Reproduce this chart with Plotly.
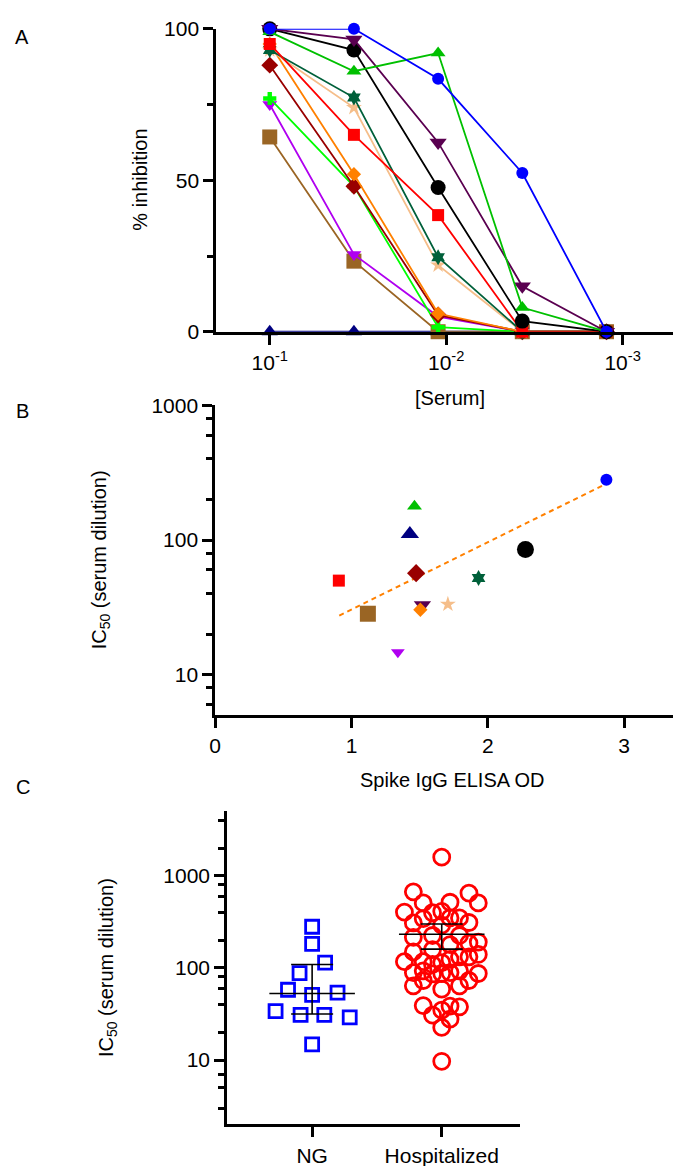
import plotly.graph_objects as go
import numpy as np

W, H = 681, 1166
FONT = "Liberation Sans, Arial, Helvetica, sans-serif"

# ---------------- Panel A data ----------------
dilutions = [1/10, 1/30, 1/90, 1/270, 1/810]
seriesA_names = ["navy", "brown", "violet", "lime", "darkred", "orange", "tan",
                 "darkgreen", "red", "black", "plum", "green", "blue"]
inh_navy = [0, 0, 0, 0, 0]
inh_brown = [64.3, 23.3, 0, 0, 0]
inh_violet = [75, 25.5, 5, 0, 0]
inh_lime = [77, 48, 1.5, 0, 0]
inh_darkred = [88, 48, 5.5, 0, 0]
inh_orange = [95, 52, 6, 0, 0]
inh_tan = [93, 74, 22, 0, 0]
inh_darkgreen = [93, 77.3, 24.6, 0, 0]
inh_red = [95, 65, 38.5, 0, 0]
inh_black = [100, 93, 47.6, 3.5, 0]
inh_plum = [100, 96.5, 62.5, 15, 0]
inh_green = [99, 86, 92, 8, 0]
inh_blue = [100, 100, 83.5, 52.4, 0]

colors = {"navy": "#000080", "brown": "#9A6524", "violet": "#B000F0", "lime": "#00FF00",
          "darkred": "#990000", "orange": "#FF8000", "tan": "#F5BE8A",
          "darkgreen": "#00603A", "red": "#FF0000", "black": "#000000",
          "plum": "#5A0050", "green": "#00C000", "blue": "#0000FF"}
symbols = {"navy": "triangle-up", "brown": "square", "violet": "triangle-down",
           "lime": "cross", "darkred": "diamond", "orange": "diamond", "tan": "star",
           "darkgreen": "hexagram", "red": "square", "black": "circle",
           "plum": "triangle-down", "green": "triangle-up", "blue": "circle"}
sizesA = {"navy": 14, "brown": 15, "violet": 13, "lime": 11, "darkred": 13, "orange": 11,
          "tan": 12, "darkgreen": 12, "red": 12, "black": 15, "plum": 15, "green": 13, "blue": 12}
inhA = {"navy": inh_navy, "brown": inh_brown, "violet": inh_violet, "lime": inh_lime,
        "darkred": inh_darkred, "orange": inh_orange, "tan": inh_tan,
        "darkgreen": inh_darkgreen, "red": inh_red, "black": inh_black,
        "plum": inh_plum, "green": inh_green, "blue": inh_blue}

# ---------------- Panel B data ----------------
b_names = ["red", "brown", "green", "navy", "darkred", "plum", "orange", "tan",
           "darkgreen", "violet", "black", "blue"]
elisa_od = [0.907, 1.12, 1.462, 1.428, 1.474, 1.52, 1.505, 1.707, 1.932, 1.34, 2.276, 2.87]
ic50_b = [50, 28.4, 178, 111, 56.8, 33, 30.4, 33.4, 52.3, 14.7, 85, 280]
sizesB = {"red": 12, "brown": 16, "green": 13, "navy": 16, "darkred": 14, "plum": 15,
          "orange": 11, "tan": 12, "darkgreen": 12, "violet": 12, "black": 17, "blue": 12}
trend_od = [0.91, 2.87]
trend_ic50 = [27.5, 262]

# ---------------- Panel C data ----------------
groups = ["NG", "Hospitalized"]
ng_ic50 = [280, 182, 114, 88, 58, 51, 54, 34, 31, 31, 29, 14.8]
ng_offset = [0, 0, 0.10, -0.097, -0.186, 0, 0.196, -0.282, -0.089, 0.094, 0.29, 0]
hosp_ic50 = [1592, 670, 649, 516, 508, 508,
             404, 308, 343, 397, 411, 349, 349, 311, 292,
             215, 225, 225, 186, 191, 179, 158,
             149, 117, 117, 109, 114, 124, 132, 132, 140,
             89, 93, 86, 87, 89, 93, 73, 87,
             64, 73, 59, 64,
             39, 34.9, 38.5, 37.8,
             30.8, 27.8, 22.6, 9.7]
hosp_offset = [0, -0.219, 0.21, 0.064, -0.143, 0.282,
               -0.288, -0.219, -0.143, -0.071, 0, 0.064, 0.137, 0.21, 0,
               -0.219, -0.071, 0.137, 0.21, 0.282, 0.064, -0.071,
               -0.219, -0.288, -0.143, -0.071, 0, 0.064, 0.137, 0.21, 0.282,
               -0.219, -0.143, -0.071, 0, 0.064, 0.137, 0.21, 0.282,
               -0.219, -0.143, 0, 0.137,
               -0.143, 0, 0.064, 0.137,
               -0.071, 0.064, 0, 0]
medians = [52.8, 232]
ci_low = [31.6, 160]
ci_high = [109, 300]

# ---------------- helpers ----------------
def px_x(p):
    return p / W

def px_y(p):
    return 1 - p / H

fig = go.Figure()

# Panel A traces
for name in seriesA_names:
    fig.add_trace(go.Scatter(
        x=dilutions, y=inhA[name], mode="lines+markers", xaxis="x", yaxis="y",
        line=dict(color=colors[name], width=1.8),
        marker=dict(symbol=symbols[name], size=sizesA[name], color=colors[name],
                    line=dict(width=0)),
        cliponaxis=False, showlegend=False))

# Panel B traces
fig.add_trace(go.Scatter(x=trend_od, y=trend_ic50, mode="lines", xaxis="x2", yaxis="y2",
                         line=dict(color="#FF8000", width=2, dash="5px,4px"), showlegend=False))
for name, od, ic in zip(b_names, elisa_od, ic50_b):
    fig.add_trace(go.Scatter(
        x=[od], y=[ic], mode="markers", xaxis="x2", yaxis="y2",
        marker=dict(symbol=symbols[name], size=sizesB[name], color=colors[name], line=dict(width=0)),
        cliponaxis=False, showlegend=False))

# Panel C traces
fig.add_trace(go.Scatter(
    x=[0 + o for o in ng_offset], y=ng_ic50, mode="markers", xaxis="x3", yaxis="y3",
    marker=dict(symbol="square-open", size=13, color="#0000FF", line=dict(width=2.8)),
    cliponaxis=False, showlegend=False))
fig.add_trace(go.Scatter(
    x=[1 + o for o in hosp_offset], y=hosp_ic50, mode="markers", xaxis="x3", yaxis="y3",
    marker=dict(symbol="circle-open", size=16, color="#FF0000", line=dict(width=2.8)),
    cliponaxis=False, showlegend=False))
for gi, (m, lo, hi) in enumerate(zip(medians, ci_low, ci_high)):
    fig.add_trace(go.Scatter(
        x=[gi], y=[m], mode="markers", xaxis="x3", yaxis="y3",
        marker=dict(size=1, color="rgba(0,0,0,0)"),
        error_y=dict(type="data", symmetric=False, array=[hi - m], arrayminus=[m - lo],
                     color="black", thickness=1.6, width=21),
        error_x=dict(type="data", array=[0.33], color="black", thickness=1.6, width=0),
        showlegend=False))

axis_common = dict(showgrid=False, zeroline=False, showline=True, linecolor="black",
                   linewidth=2.7, ticks="outside", tickcolor="black", tickwidth=2.5,
                   ticklen=10, tickfont=dict(family=FONT, size=21, color="black"))

minor_common = dict(ticks="outside", ticklen=6, tickwidth=2.5, tickcolor="black", showgrid=False)

fig.update_layout(
    width=W, height=H, margin=dict(l=0, r=0, t=0, b=0),
    paper_bgcolor="white", plot_bgcolor="white",
    font=dict(family=FONT, color="black"),
    xaxis=dict(domain=[px_x(204), px_x(676)], anchor="y", type="log",
               range=[-0.6966, -3.348], tickvals=[0.1, 0.01, 0.001],
               ticktext=["10<sup>-1</sup>", "10<sup>-2</sup>", "10<sup>-3</sup>"],
               **axis_common),
    yaxis=dict(domain=[px_y(318), px_y(9)], anchor="x", range=[0, 100],
               tickvals=[0, 50, 100], minor=dict(tickvals=[25, 75], **minor_common),
               **axis_common),
    xaxis2=dict(domain=[px_x(203), px_x(681)], anchor="y2", range=[0, 3.476],
                tickvals=[0, 1, 2, 3], **axis_common),
    yaxis2=dict(domain=[px_y(709.4), px_y(393)], anchor="x2", type="log",
                range=[np.log10(5), 3], tickvals=[10, 100, 1000],
                minor=dict(tickvals=[6, 8, 20, 40, 60, 80, 200, 400, 600, 800], **minor_common),
                **axis_common),
    xaxis3=dict(domain=[px_x(215), px_x(510)], anchor="y3", range=[-0.656, 1.6],
                tickvals=[0, 1], ticktext=groups, **axis_common),
    yaxis3=dict(domain=[px_y(1126.7), px_y(807.3)], anchor="x3", type="log",
                range=[np.log10(2), np.log10(5000)], tickvals=[10, 100, 1000],
                minor=dict(tickvals=[3, 5, 7, 20, 40, 60, 80, 200, 400, 600, 800, 2000, 4000],
                           **minor_common),
                **axis_common),
)

ann_font = dict(family=FONT, size=20, color="black")
annotations = [
    dict(text="A", x=px_x(8), y=px_y(17)),
    dict(text="B", x=px_x(9), y=px_y(399)),
    dict(text="C", x=px_x(9), y=px_y(782)),
    dict(text="% inhibition", x=px_x(127), y=px_y(163), textangle=-90),
    dict(text="[Serum]", x=px_x(440), y=px_y(386)),
    dict(text="IC<sub>50</sub> (serum dilution)", x=px_x(87), y=px_y(551), textangle=-90),
    dict(text="Spike IgG ELISA OD", x=px_x(442), y=px_y(775)),
    dict(text="IC<sub>50</sub> (serum dilution)", x=px_x(95), y=px_y(967), textangle=-90),
]
for a in annotations:
    a.update(xref="paper", yref="paper", showarrow=False, font=ann_font,
             xanchor="center", yanchor="middle")
fig.update_layout(annotations=annotations)

fig.write_html("out.html")
